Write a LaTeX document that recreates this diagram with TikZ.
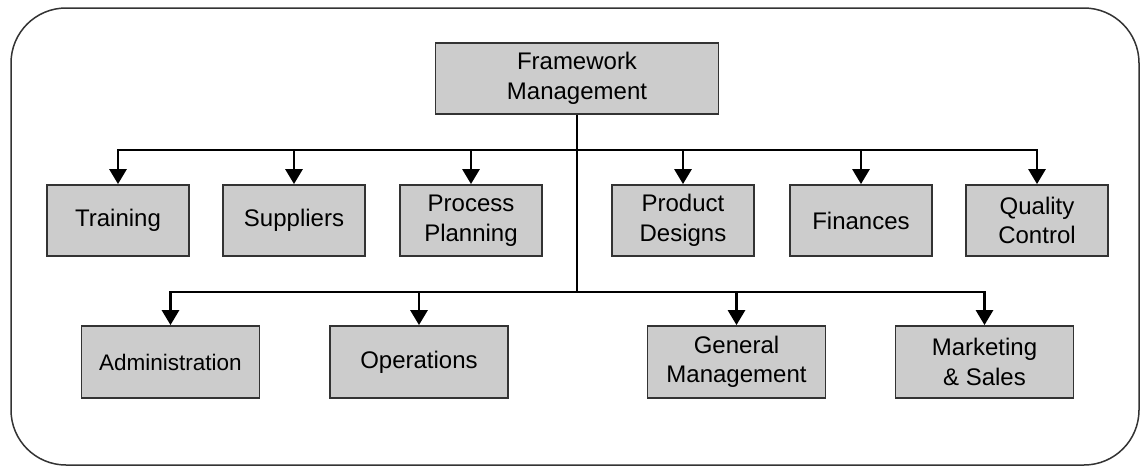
\documentclass[tikz,border=0pt]{standalone}
\usepackage{fontspec}
\setmainfont{Liberation Sans}
\usetikzlibrary{arrows.meta}
\definecolor{boxfill}{RGB}{204,204,204}
\definecolor{boxline}{RGB}{51,51,51}
\tikzset{
    unit/.style={draw=boxline, line width=1.8pt, fill=boxfill, align=center,
        inner sep=0pt, font=\fontsize{24}{29.5}\selectfont},
    toprow/.style={unit, minimum width=142pt, minimum height=71pt},
    botrow/.style={unit, minimum width=178pt, minimum height=72pt},
    link/.style={line width=2.8pt, -{Triangle[width=17pt,length=15pt]}}
}
\begin{document}
\begin{tikzpicture}[x=1pt, y=-1pt]
    \useasboundingbox (0,0) rectangle (1141,466);
    % Frame
    \draw[boxline, line width=1.5pt, rounded corners=55pt] (11,8) rectangle (1139,465);

    % Head
    \node[unit, minimum width=283pt, minimum height=71pt] (head) at (577,78.5) {Framework\\Management};
    \coordinate (bus1) at (577,150);
    \coordinate (bus2) at (577,292);
    \draw[line width=2.8pt] (head.south) -- (bus2);

    % First level
    \node[toprow] (training)  at (118,220.5)  {Training};
    \node[toprow] (suppliers) at (294,220.5)  {Suppliers};
    \node[toprow] (process)   at (471,220.5)  {Process\\Planning};
    \node[toprow] (product)   at (683,220.5)  {Product\\Designs};
    \node[toprow] (finances)  at (861,220.5)  {Finances};
    \node[toprow] (quality)   at (1037,220.5) {Quality\\Control};
    \foreach \n in {training, suppliers, process, product, finances, quality} {
        \draw[link] (bus1) -| (\n.north);
    }

    % Second level
    \node[botrow, font=\fontsize{22.5}{27}\selectfont] (admin) at (170.5,362) {Administration};
    \node[botrow] (operations) at (419,362)   {Operations};
    \node[botrow] (general)    at (736.5,362) {General\\Management};
    \node[botrow] (marketing)  at (984.5,362) {Marketing\\\& Sales};
    \foreach \n in {admin, operations, general, marketing} {
        \draw[link] (bus2) -| (\n.north);
    }
\end{tikzpicture}
\end{document}
